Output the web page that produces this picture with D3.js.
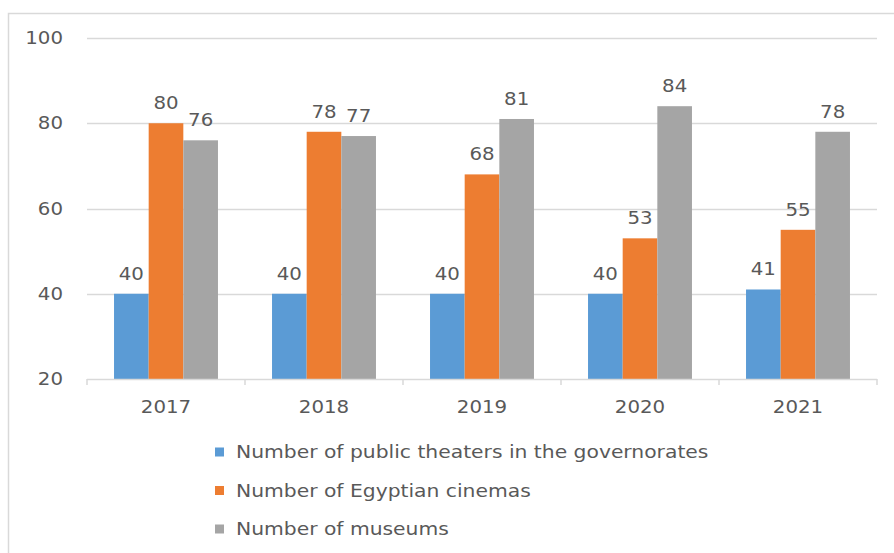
<!DOCTYPE html>
<html><head><meta charset="utf-8">
<script src="https://cdn.jsdelivr.net/npm/d3@7"></script>
<style>body{margin:0;background:#fff}svg{display:block}text{font-family:"DejaVu Sans",sans-serif;fill:#595959}</style>
</head><body><div id="c"></div>
<script>
const categories = ["2017","2018","2019","2020","2021"];
const seriesNames = ["Number of public theaters in the governorates","Number of Egyptian cinemas","Number of museums"];
const theaters = [40,40,40,40,41];
const cinemas = [80,78,68,53,55];
const museums = [76,77,81,84,78];
const yTicks = [20,40,60,80,100];
const colors = ["#5B9BD5","#ED7D31","#A5A5A5"];
const series = [theaters, cinemas, museums];

const W=894,H=553, SX=1.13;
const svg=d3.select("#c").append("svg").attr("width",W).attr("height",H);
svg.append("path").attr("d",`M8.5,${H}V13.5H${W}`).attr("fill","none").attr("stroke","#d9d9d9").attr("stroke-width",1.5);

const x=d3.scaleBand().domain(categories).range([87,877]).paddingInner(0).paddingOuter(0);
const inner=d3.scaleBand().domain(d3.range(3)).range([0,x.bandwidth()]).paddingInner(0).paddingOuter(0.78);
const y=d3.scaleLinear().domain([20,100]).range([379,38]);
const tr=(px,py,s)=>`translate(${px},${py}) scale(${s||SX},1)`;

// gridlines
svg.append("g").selectAll("line").data(yTicks.slice(1)).join("line")
 .attr("x1",87).attr("x2",877).attr("y1",d=>Math.round(y(d))+0.5).attr("y2",d=>Math.round(y(d))+0.5)
 .attr("stroke","#d9d9d9").attr("stroke-width",1.5);

// y labels
svg.append("g").selectAll("text").data(yTicks).join("text")
 .attr("transform",d=>tr(63,y(d))).attr("dy","0.35em").attr("text-anchor","end")
 .attr("font-size",17.5).text(d=>d);

// bars
series.forEach((s,i)=>{
  const g=svg.append("g");
  g.selectAll("rect").data(s).join("rect")
   .attr("x",(d,j)=>x(categories[j])+inner(i)).attr("width",inner.bandwidth())
   .attr("y",d=>y(d)).attr("height",d=>y(20)-y(d)).attr("fill",colors[i]);
  g.selectAll("text").data(s).join("text")
   .attr("transform",(d,j)=>tr(x(categories[j])+inner(i)+inner.bandwidth()/2, y(d)-14))
   .attr("text-anchor","middle").attr("font-size",17.5).text(d=>d);
});

// x axis
const ax=svg.append("g");
ax.append("line").attr("x1",87).attr("x2",877).attr("y1",379.5).attr("y2",379.5).attr("stroke","#d9d9d9").attr("stroke-width",1.5);
const bounds=categories.map(c=>x(c)).concat([877]);
ax.selectAll("line.t").data(bounds).join("line").attr("class","t")
 .attr("x1",d=>d).attr("x2",d=>d).attr("y1",379).attr("y2",385).attr("stroke","#d9d9d9").attr("stroke-width",1.5);
ax.selectAll("text").data(categories).join("text")
 .attr("transform",d=>tr(x(d)+x.bandwidth()/2,413)).attr("text-anchor","middle").attr("font-size",17.5).text(d=>d);

// legend
const lg=svg.append("g");
seriesNames.forEach((n,i)=>{
  const yy=452+i*38.5;
  lg.append("rect").attr("x",215).attr("y",yy-4.5).attr("width",9).attr("height",9).attr("fill",colors[i]);
  lg.append("text").attr("transform",tr(236,yy,1.16)).attr("dy","0.35em").attr("font-size",17.5).text(n);
});
</script></body></html>
